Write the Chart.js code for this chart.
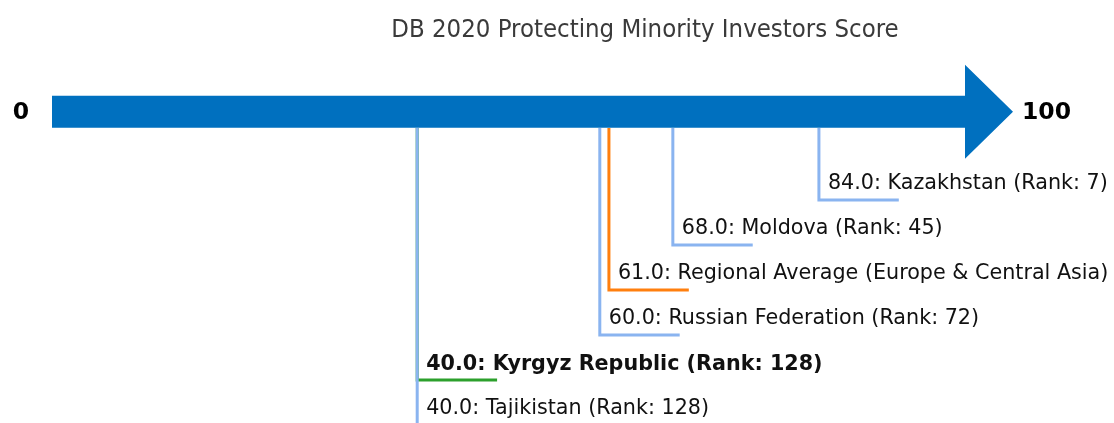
<!DOCTYPE html>
<html>
<head>
<meta charset="utf-8">
<script src="https://cdn.jsdelivr.net/npm/chart.js@4"></script>
<style>
  html, body { margin:0; padding:0; background:#fff; }
  #wrap { width:1114px; height:423px; position:relative; }
</style>
</head>
<body>
<div id="wrap"><canvas id="c"></canvas></div>
<script>
// ── data ──
const TITLE = 'DB 2020 Protecting Minority Investors Score';
const AXIS_MIN = 0, AXIS_MAX = 100;
const names  = ['Kazakhstan', 'Moldova', 'Regional Average (Europe & Central Asia)', 'Russian Federation', 'Kyrgyz Republic', 'Tajikistan'];
const scores = [84.0, 68.0, 61.0, 60.0, 40.0, 40.0];
const ranks  = [7, 45, null, 72, 128, 128];
const levels = [1, 2, 3, 4, 5, 6];
const kinds  = ['peer', 'peer', 'avg', 'peer', 'focus', 'peer'];

const ARROW_Y = -0.96, ARROW_BOTTOM = -0.6, LEADER_LEN = 8.75;
const colors = { peer:'#8ab4f0', avg:'#ff7f0e', focus:'#2ca02c' };

function labelOf(i) {
  return scores[i].toFixed(1) + ': ' + names[i] + (ranks[i] != null ? ' (Rank: ' + ranks[i] + ')' : '');
}

const datasets = names.map((n, i) => ({
  label: n,
  data: [
    { x: scores[i], y: ARROW_BOTTOM },
    { x: scores[i], y: levels[i] },
    { x: scores[i] + LEADER_LEN, y: levels[i] }
  ],
  borderColor: colors[kinds[i]],
  borderWidth: 3,
  pointRadius: 0,
  tension: 0,
  clip: false,
  order: names.length - i,
  borderJoinStyle: 'miter'
}));

const arrowPlugin = {
  id: 'arrow',
  beforeDatasetsDraw(chart) {
    const { ctx, scales: { x, y } } = chart;
    const x0 = x.getPixelForValue(AXIS_MIN), x1 = x.getPixelForValue(AXIS_MAX);
    const yc = y.getPixelForValue(ARROW_Y);
    ctx.save();
    ctx.fillStyle = '#0070bf';
    ctx.beginPath();
    ctx.moveTo(x0, yc - 16);
    ctx.lineTo(x1, yc - 16);
    ctx.lineTo(x1, yc - 47);
    ctx.lineTo(x1 + 48, yc);
    ctx.lineTo(x1, yc + 47);
    ctx.lineTo(x1, yc + 16);
    ctx.lineTo(x0, yc + 16);
    ctx.closePath();
    ctx.fill();
    // end labels
    ctx.fillStyle = '#000';
    ctx.font = 'bold 23.5px "DejaVu Sans"';
    ctx.textBaseline = 'middle';
    ctx.textAlign = 'center';
    ctx.fillText(String(AXIS_MIN), x0 - 31, yc + 1);
    ctx.textAlign = 'left';
    ctx.fillText(String(AXIS_MAX), x1 + 57, yc + 1);
    // title
    ctx.fillStyle = '#3a3a3a';
    ctx.font = '25.5px "DejaVu Sans Condensed", "DejaVu Sans"';
    ctx.textAlign = 'center';
    ctx.textBaseline = 'alphabetic';
    ctx.fillText(TITLE, 645, 37);
    ctx.restore();
  },
  afterDatasetsDraw(chart) {
    const { ctx, scales: { x, y } } = chart;
    ctx.save();
    ctx.fillStyle = '#111';
    ctx.textAlign = 'left';
    ctx.textBaseline = 'alphabetic';
    names.forEach((n, i) => {
      const focus = kinds[i] === 'focus';
      ctx.font = (focus ? 'bold ' : '') + '20.7px "DejaVu Sans"';
      ctx.fillText(labelOf(i), x.getPixelForValue(scores[i]) + 9, y.getPixelForValue(levels[i]) - (focus ? 10 : 11));
    });
    ctx.restore();
  }
};

new Chart(document.getElementById('c'), {
  type: 'line',
  data: { datasets },
  options: {
    responsive: true,
    maintainAspectRatio: false,
    animation: false,
    layout: { padding: { left: 52, right: 149, top: 0, bottom: 0 } },
    plugins: { legend: { display: false }, tooltip: { enabled: false } },
    scales: {
      x: { type: 'linear', min: AXIS_MIN, max: AXIS_MAX, display: false },
      y: { type: 'linear', min: -155 / 45, max: 268 / 45, reverse: true, display: false }
    }
  },
  plugins: [arrowPlugin]
});
</script>
</body>
</html>
